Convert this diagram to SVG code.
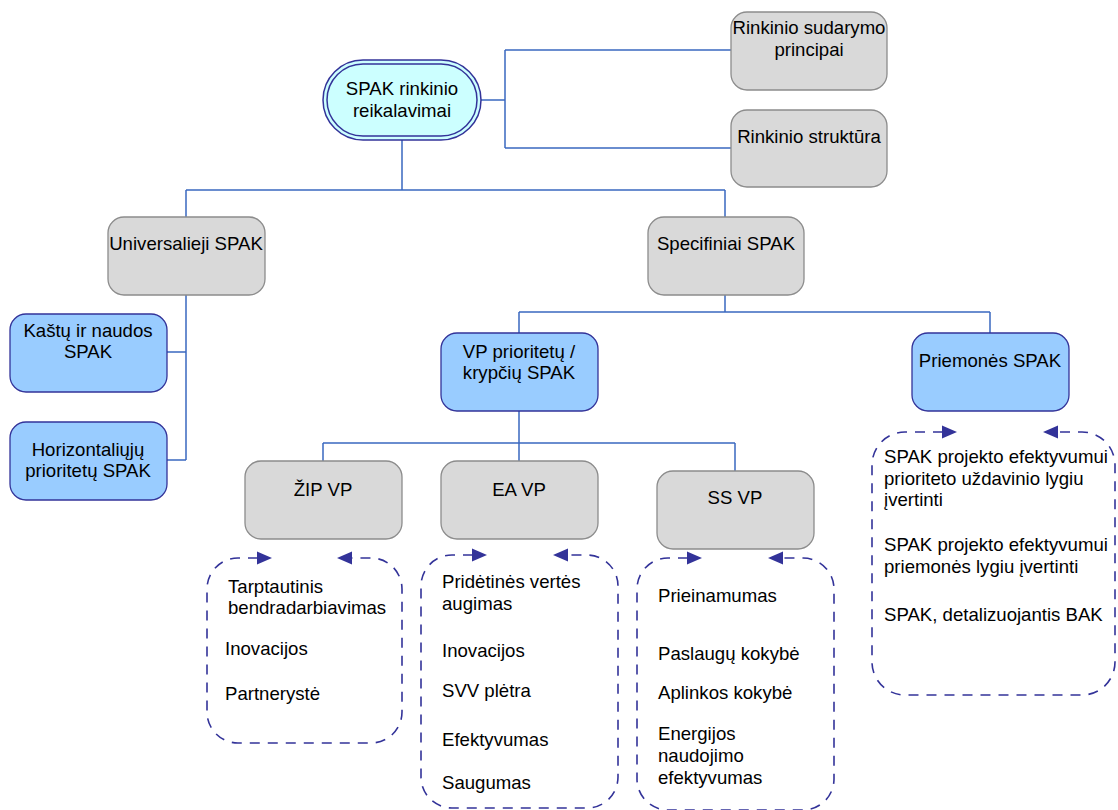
<svg xmlns="http://www.w3.org/2000/svg" width="1118" height="810" viewBox="0 0 1118 810">
<defs>
<style>
text{font-family:"Liberation Sans",Arial,sans-serif;font-size:18.6px;fill:#000}
.c{text-anchor:middle}
.gray{fill:#d9d9d9;stroke:#8c8c8c;stroke-width:1.3}
.blue{fill:#99ccff;stroke:#333399;stroke-width:1.3}
.conn{fill:none;stroke:#3a68c0;stroke-width:1.5}
.dash{fill:none;stroke:#333399;stroke-width:1.6;stroke-dasharray:10 8}
.ah{fill:#333399}
</style>
</defs>
<rect width="1118" height="810" fill="#fff"/>
<g id="connectors">
<path class="conn" d="M481 100H505M505 50V148M505 50H731M505 148H731"/>
<path class="conn" d="M402 140V190M186 190H725M186 190V217M725 190V217"/>
<path class="conn" d="M186 295V460M167 352H186M167 460H186"/>
<path class="conn" d="M725 295V312M519 312H990M519 312V333M990 312V333"/>
<path class="conn" d="M519 411V443M323 443H735M323 443V461M519 443V461M735 443V471"/>
</g>
<g id="n-top">
<rect x="323" y="60" width="158" height="80" rx="40" fill="#ccffff" stroke="#333399" stroke-width="1.5"/>
<rect x="327" y="64" width="150" height="72" rx="36" fill="none" stroke="#333399" stroke-width="1.5"/>
<text class="c" x="402" y="95">SPAK rinkinio</text>
<text class="c" x="402" y="117">reikalavimai</text>
</g>
<g id="n-principai">
<rect class="gray" x="731" y="12" width="156" height="78" rx="16"/>
<text class="c" x="809" y="34">Rinkinio sudarymo</text>
<text class="c" x="809" y="56">principai</text>
</g>
<g id="n-struktura">
<rect class="gray" x="731" y="110" width="156" height="77" rx="16"/>
<text class="c" x="809" y="143">Rinkinio struktūra</text>
</g>
<g id="n-universalieji">
<rect class="gray" x="108" y="217" width="157" height="78" rx="16"/>
<text class="c" x="186" y="250">Universalieji SPAK</text>
</g>
<g id="n-specifiniai">
<rect class="gray" x="648" y="217" width="156" height="78" rx="16"/>
<text class="c" x="726" y="250">Specifiniai SPAK</text>
</g>
<g id="n-kastu">
<rect class="blue" x="10" y="314" width="157" height="78" rx="16"/>
<text class="c" x="88" y="337">Kaštų ir naudos</text>
<text class="c" x="88" y="358">SPAK</text>
</g>
<g id="n-horizontaliuju">
<rect class="blue" x="10" y="422" width="157" height="78" rx="16"/>
<text class="c" x="88" y="456">Horizontaliųjų</text>
<text class="c" x="88" y="477">prioritetų SPAK</text>
</g>
<g id="n-vp">
<rect class="blue" x="441" y="333" width="157" height="78" rx="16"/>
<text class="c" x="519" y="358">VP prioritetų /</text>
<text class="c" x="519" y="379">krypčių SPAK</text>
</g>
<g id="n-priemones">
<rect class="blue" x="912" y="333" width="157" height="78" rx="16"/>
<text class="c" x="990" y="367">Priemonės SPAK</text>
</g>
<g id="n-zip">
<rect class="gray" x="245" y="461" width="157" height="78" rx="16"/>
<text class="c" x="323" y="496">ŽIP VP</text>
</g>
<g id="n-ea">
<rect class="gray" x="441" y="461" width="157" height="78" rx="16"/>
<text class="c" x="519" y="496">EA VP</text>
</g>
<g id="n-ss">
<rect class="gray" x="657" y="471" width="157" height="78" rx="16"/>
<text class="c" x="735" y="504">SS VP</text>
</g>
<g id="d-zip">
<path class="dash" d="M258 558H238A31 31 0 0 0 207 589V712A31 31 0 0 0 238 743H371A31 31 0 0 0 402 712V589A31 31 0 0 0 371 558H352"/>
<polygon class="ah" points="272,558 257,551.5 257,564.5"/>
<polygon class="ah" points="337,558 352,551.5 352,564.5"/>
<text x="228" y="593">Tarptautinis</text>
<text x="228" y="614">bendradarbiavimas</text>
<text x="225" y="655">Inovacijos</text>
<text x="225" y="700">Partnerystė</text>
</g>
<g id="d-ea">
<path class="dash" d="M473 555H452A31 31 0 0 0 421 586V777A31 31 0 0 0 452 808H587A31 31 0 0 0 618 777V586A31 31 0 0 0 587 555H568"/>
<polygon class="ah" points="487,555 472,548.5 472,561.5"/>
<polygon class="ah" points="553,555 568,548.5 568,561.5"/>
<text x="442" y="588">Pridėtinės vertės</text>
<text x="442" y="610">augimas</text>
<text x="442" y="657">Inovacijos</text>
<text x="442" y="697">SVV plėtra</text>
<text x="442" y="746">Efektyvumas</text>
<text x="442" y="789">Saugumas</text>
</g>
<g id="d-ss">
<path class="dash" d="M688 558H668A31 31 0 0 0 637 589V779A31 31 0 0 0 668 810H803A31 31 0 0 0 834 779V589A31 31 0 0 0 803 558H783"/>
<polygon class="ah" points="702,558 687,551.5 687,564.5"/>
<polygon class="ah" points="768,558 783,551.5 783,564.5"/>
<text x="658" y="602">Prieinamumas</text>
<text x="658" y="660">Paslaugų kokybė</text>
<text x="658" y="699">Aplinkos kokybė</text>
<text x="658" y="740">Energijos</text>
<text x="658" y="762">naudojimo</text>
<text x="658" y="784">efektyvumas</text>
</g>
<g id="d-priemones">
<path class="dash" d="M943 432H905A33 33 0 0 0 872 465V662A33 33 0 0 0 905 695H1082A33 33 0 0 0 1115 662V465A33 33 0 0 0 1082 432H1058"/>
<polygon class="ah" points="957,432 942,425.5 942,438.5"/>
<polygon class="ah" points="1043,432 1058,425.5 1058,438.5"/>
<text x="884" y="463">SPAK projekto efektyvumui</text>
<text x="884" y="485">prioriteto uždavinio lygiu</text>
<text x="884" y="506">įvertinti</text>
<text x="884" y="551">SPAK projekto efektyvumui</text>
<text x="884" y="573">priemonės lygiu įvertinti</text>
<text x="884" y="621">SPAK, detalizuojantis BAK</text>
</g>
</svg>
